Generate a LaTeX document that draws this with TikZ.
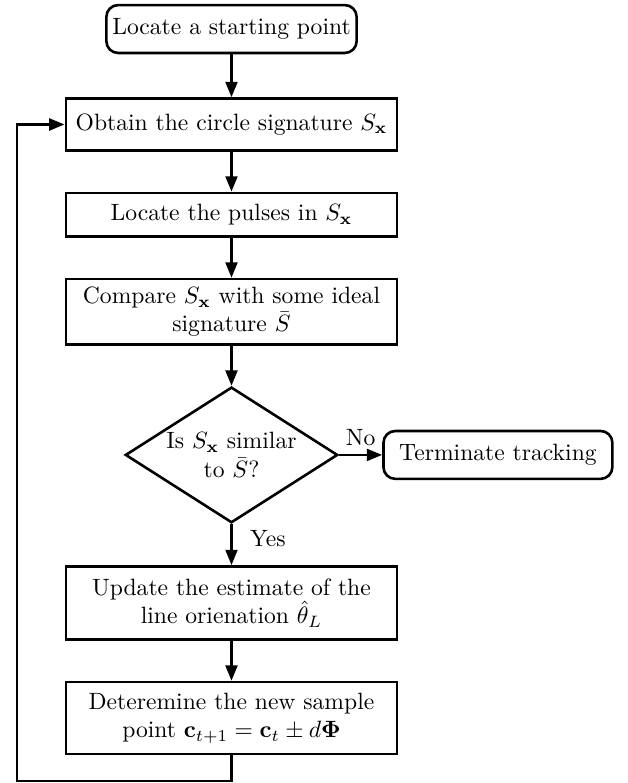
\documentclass[tikz,border=0pt]{standalone}
\usepackage{amsmath,amssymb,amsfonts}
\usepackage{xcolor}
\usepackage{tikz}
\usetikzlibrary{shapes.geometric, arrows.meta, positioning, calc}
\tikzset{
    baseblock/.style={draw=black, line width=1.1pt, font=\normalsize},
    termblock/.style={baseblock, rectangle, rounded corners=5pt, inner xsep=2.5pt, minimum height=20.3pt},
    processblock/.style={baseblock, rectangle, text width=4.7cm, align=flush center, minimum height=18.5pt},
    decision/.style={baseblock, diamond, aspect=1.6, inner sep=0pt, align=flush center, minimum width=90pt, minimum height=57.5pt},
    arrow/.style={line width=1.1pt, -{Triangle[length=6.5pt, width=5pt]}, color=black},
    line/.style={line width=1.1pt, color=black}
}
\begin{document}
\begin{tikzpicture}[node distance=16.9pt, auto]
    \useasboundingbox (0,0) rectangle (266.1pt,-331.8pt);
    \node (start) [termblock] at (98.1pt,-12.3pt) {Locate a starting point};
    \node (obtain) [processblock, below=18.2pt of start, minimum height=22pt] {Obtain the circle signature $S_{\mathbf{x}}$};
    \node (pulses) [processblock, below=of obtain] {Locate the pulses in $S_{\mathbf{x}}$};
    \node (compare) [processblock, below=of pulses] {Compare $S_{\mathbf{x}}$ with some ideal\\ signature $\bar{S}$};
    \node (similar) [decision, below=of compare] {Is $S_{\mathbf{x}}$ similar\\ to $\bar{S}$?};
    \node (stop) [termblock, right=18.3pt of similar, minimum width=97pt] {Terminate tracking};
    \node (update) [processblock, below=17.4pt of similar, minimum height=31pt] {Update the estimate of the\\ line orienation $\hat{\theta}_L$};
    \node (newpoint) [processblock, below=of update, minimum height=30.5pt] {Deteremine the new sample\\ point $\mathbf{c}_{t+1} = \mathbf{c}_t \pm d\mathbf{\Phi}$};
    \coordinate (loop) at (7.2pt,-330.9pt);

    \draw [arrow] (start) -- (obtain);
    \draw [arrow] (obtain) -- (pulses);
    \draw [arrow] (pulses) -- (compare);
    \draw [arrow] (compare) -- (similar);
    \draw [arrow] (similar) -- node[above] {No} (stop);
    \draw [arrow] (similar) -- node[right=4pt, pos=0.35] {Yes} (update);
    \draw [arrow] (update) -- (newpoint);
    \draw [arrow] (newpoint.south) |- (loop) |- (obtain.west);
\end{tikzpicture}
\end{document}
